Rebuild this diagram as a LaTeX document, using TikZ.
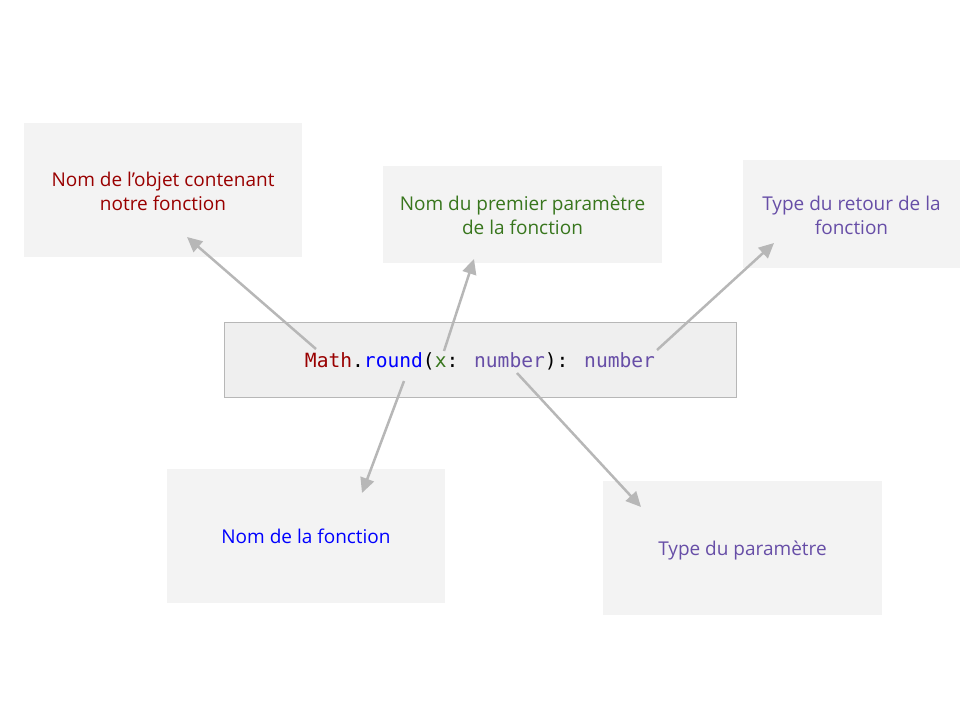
\documentclass[tikz,border=0pt]{standalone}
\usepackage{fontspec}
\setmainfont{Open Sans}
\newfontfamily\codefont{DejaVu Sans Mono}
\usetikzlibrary{arrows.meta}
\definecolor{cred}{HTML}{990000}
\definecolor{cgreen}{HTML}{38761D}
\definecolor{cpurple}{HTML}{674EA7}
\definecolor{cblue}{HTML}{0000FF}
\definecolor{boxfill}{HTML}{F3F3F3}
\definecolor{codefill}{HTML}{EFEFEF}
\definecolor{arrowgray}{HTML}{B7B7B7}
\newcommand{\lowerby}[2]{\raisebox{-#1}[\height][\depth]{#2}}
\tikzset{
  labelbox/.style={fill=boxfill, draw=none, align=center, inner sep=0pt,
    font=\fontsize{19}{24}\selectfont},
  codebox/.style={fill=codefill, draw=arrowgray, line width=1pt, inner sep=0pt,
    minimum width=512pt, minimum height=75pt, font=\codefont\fontsize{19.6}{24}\selectfont},
  pointer/.style={draw=arrowgray, line width=2.5pt,
    -{Triangle[length=15pt,width=14pt]}},
}
\begin{document}
\begin{tikzpicture}[x=1pt,y=-1pt]
\useasboundingbox (0,0) rectangle (960,720);
\node[labelbox, minimum width=278pt, minimum height=134pt, text=cred] (obj) at (163,190)
  {\lowerby{4pt}{\begin{tabular}{@{}c@{}}Nom de l’objet contenant\\notre fonction\end{tabular}}};
\node[labelbox, minimum width=279pt, minimum height=97pt, text=cgreen] (param) at (522.5,214.5)
  {\lowerby{3pt}{\begin{tabular}{@{}c@{}}Nom du premier paramètre\\de la fonction\end{tabular}}};
\node[labelbox, minimum width=217pt, minimum height=108pt, text=cpurple] (ret) at (851.5,214)
  {\lowerby{4pt}{\begin{tabular}{@{}c@{}}Type du retour de la\\fonction\end{tabular}}};
\node[labelbox, minimum width=278pt, minimum height=134pt, text=cblue] (fn) at (306,536)
  {Nom de la fonction};
\node[labelbox, minimum width=279pt, minimum height=134pt, text=cpurple] (ptype) at (742.5,548)
  {\lowerby{2pt}{Type du paramètre}};
\node[codebox] (code) at (480,359.5)
  {\lowerby{2pt}{\textcolor{cred}{Math}.\textcolor{cblue}{round}(\textcolor{cgreen}{x}: \textcolor{cpurple}{number}): \textcolor{cpurple}{number}}};
\coordinate (s1) at (316,349);
\coordinate (s2) at (444,351);
\coordinate (s3) at (657,350);
\coordinate (s4) at (404,381);
\coordinate (s5) at (517,373);
\coordinate (t1) at (187,237);
\coordinate (t2) at (474,259);
\coordinate (t3) at (774,243);
\coordinate (t4) at (362,493);
\coordinate (t5) at (641,507);
\draw[pointer] (s1) -- (t1);
\draw[pointer] (s2) -- (t2);
\draw[pointer] (s3) -- (t3);
\draw[pointer] (s4) -- (t4);
\draw[pointer] (s5) -- (t5);
\end{tikzpicture}
\end{document}
